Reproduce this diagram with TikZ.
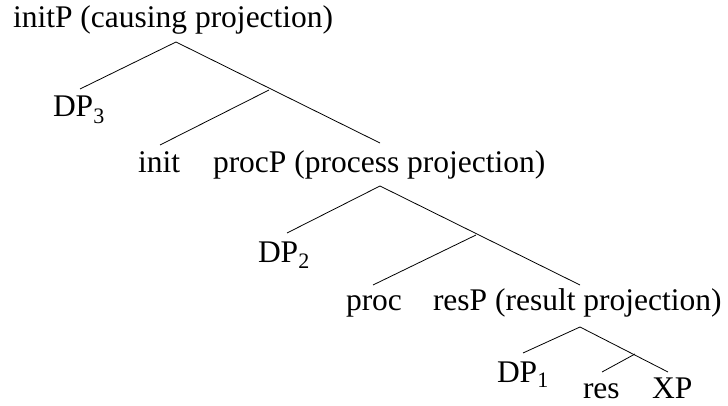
\documentclass[tikz,border=0pt]{standalone}
\usepackage{fontspec}
\setmainfont{Liberation Serif}
\begin{document}
\begin{tikzpicture}[x=1pt,y=-1pt,
  lbl/.style={anchor=base west,inner sep=0pt,outer sep=0pt,font=\fontsize{31.5}{36}\selectfont},
  edge/.style={line width=0.8pt}]
\useasboundingbox (0,0) rectangle (728,406);
% labels
\node[lbl] (initP) at (13,28) {initP (causing projection)};
\node[lbl] (DPthree) at (53,117) {DP\textsubscript{3}};
\node[lbl] (init) at (138,173) {init};
\node[lbl] (procP) at (213,173) {procP (process projection)};
\node[lbl] (DPtwo) at (258,262) {DP\textsubscript{2}};
\node[lbl] (proc) at (346,310) {proc};
\node[lbl] (resP) at (433,310) {resP (result projection)};
\node[lbl] (DPone) at (497,382) {DP\textsubscript{1}};
\node[lbl] (res) at (583,398) {res};
\node[lbl] (XP) at (652,398) {XP};
% junction points
\coordinate (a0) at (176,42);
\coordinate (a1) at (80,89);
\coordinate (a2) at (380,143);
\coordinate (b0) at (269,90);
\coordinate (b1) at (160,145);
\coordinate (c0) at (380,186);
\coordinate (c1) at (287,233);
\coordinate (c2) at (580,285);
\coordinate (d0) at (476,235);
\coordinate (d1) at (373,285);
\coordinate (e0) at (580,327);
\coordinate (e1) at (523,353);
\coordinate (e2) at (668,372);
\coordinate (f0) at (635,354);
\coordinate (f1) at (602,372);
% edges
\draw[edge] (a1) -- (a0) -- (a2);
\draw[edge] (b1) -- (b0);
\draw[edge] (c1) -- (c0) -- (c2);
\draw[edge] (d1) -- (d0);
\draw[edge] (e1) -- (e0) -- (e2);
\draw[edge] (f1) -- (f0);
\end{tikzpicture}
\end{document}
